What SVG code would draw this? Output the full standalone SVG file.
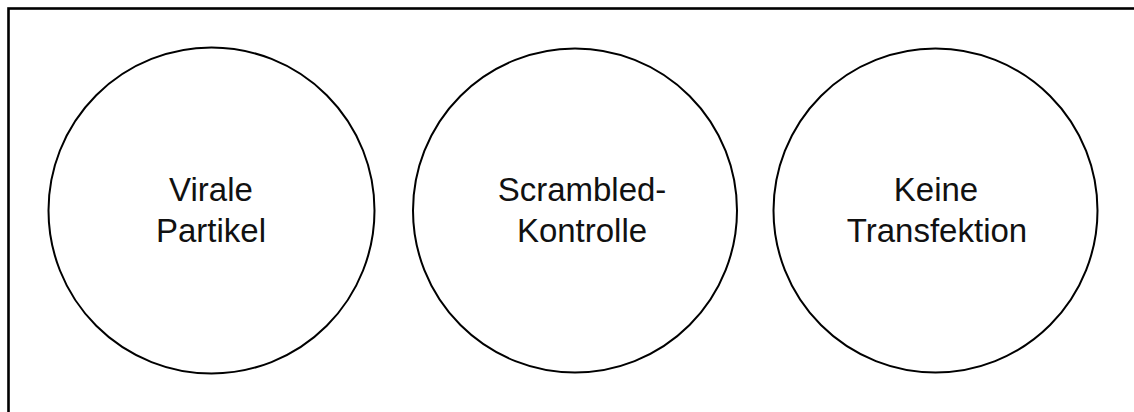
<svg xmlns="http://www.w3.org/2000/svg" width="1134" height="412" viewBox="0 0 1134 412">
  <style>
    .frame { fill: none; stroke: #000; stroke-width: 2.6; }
    .node circle { fill: #fff; stroke: #000; stroke-width: 2; }
    .node text { font-family: "Liberation Sans", Arial, sans-serif; font-size: 33px; fill: #111; text-anchor: middle; }
  </style>
  <rect width="1134" height="412" fill="#fff"/>
  <!-- outer frame, open to the right and bottom edges -->
  <rect class="frame" x="8.5" y="8.5" width="1200" height="500"/>
  <g id="connectors"/>
  <g id="node-virale" class="node">
    <circle cx="211.5" cy="210.5" r="163"/>
    <text x="211" y="201">Virale</text>
    <text x="211" y="241.5">Partikel</text>
  </g>
  <g id="node-scrambled" class="node">
    <circle cx="575" cy="210.5" r="162"/>
    <text x="582" y="200.5">Scrambled-</text>
    <text x="582" y="241.5">Kontrolle</text>
  </g>
  <g id="node-keine" class="node">
    <circle cx="935.5" cy="210.5" r="162"/>
    <text x="936" y="200.5">Keine</text>
    <text x="937" y="241.5">Transfektion</text>
  </g>
</svg>
